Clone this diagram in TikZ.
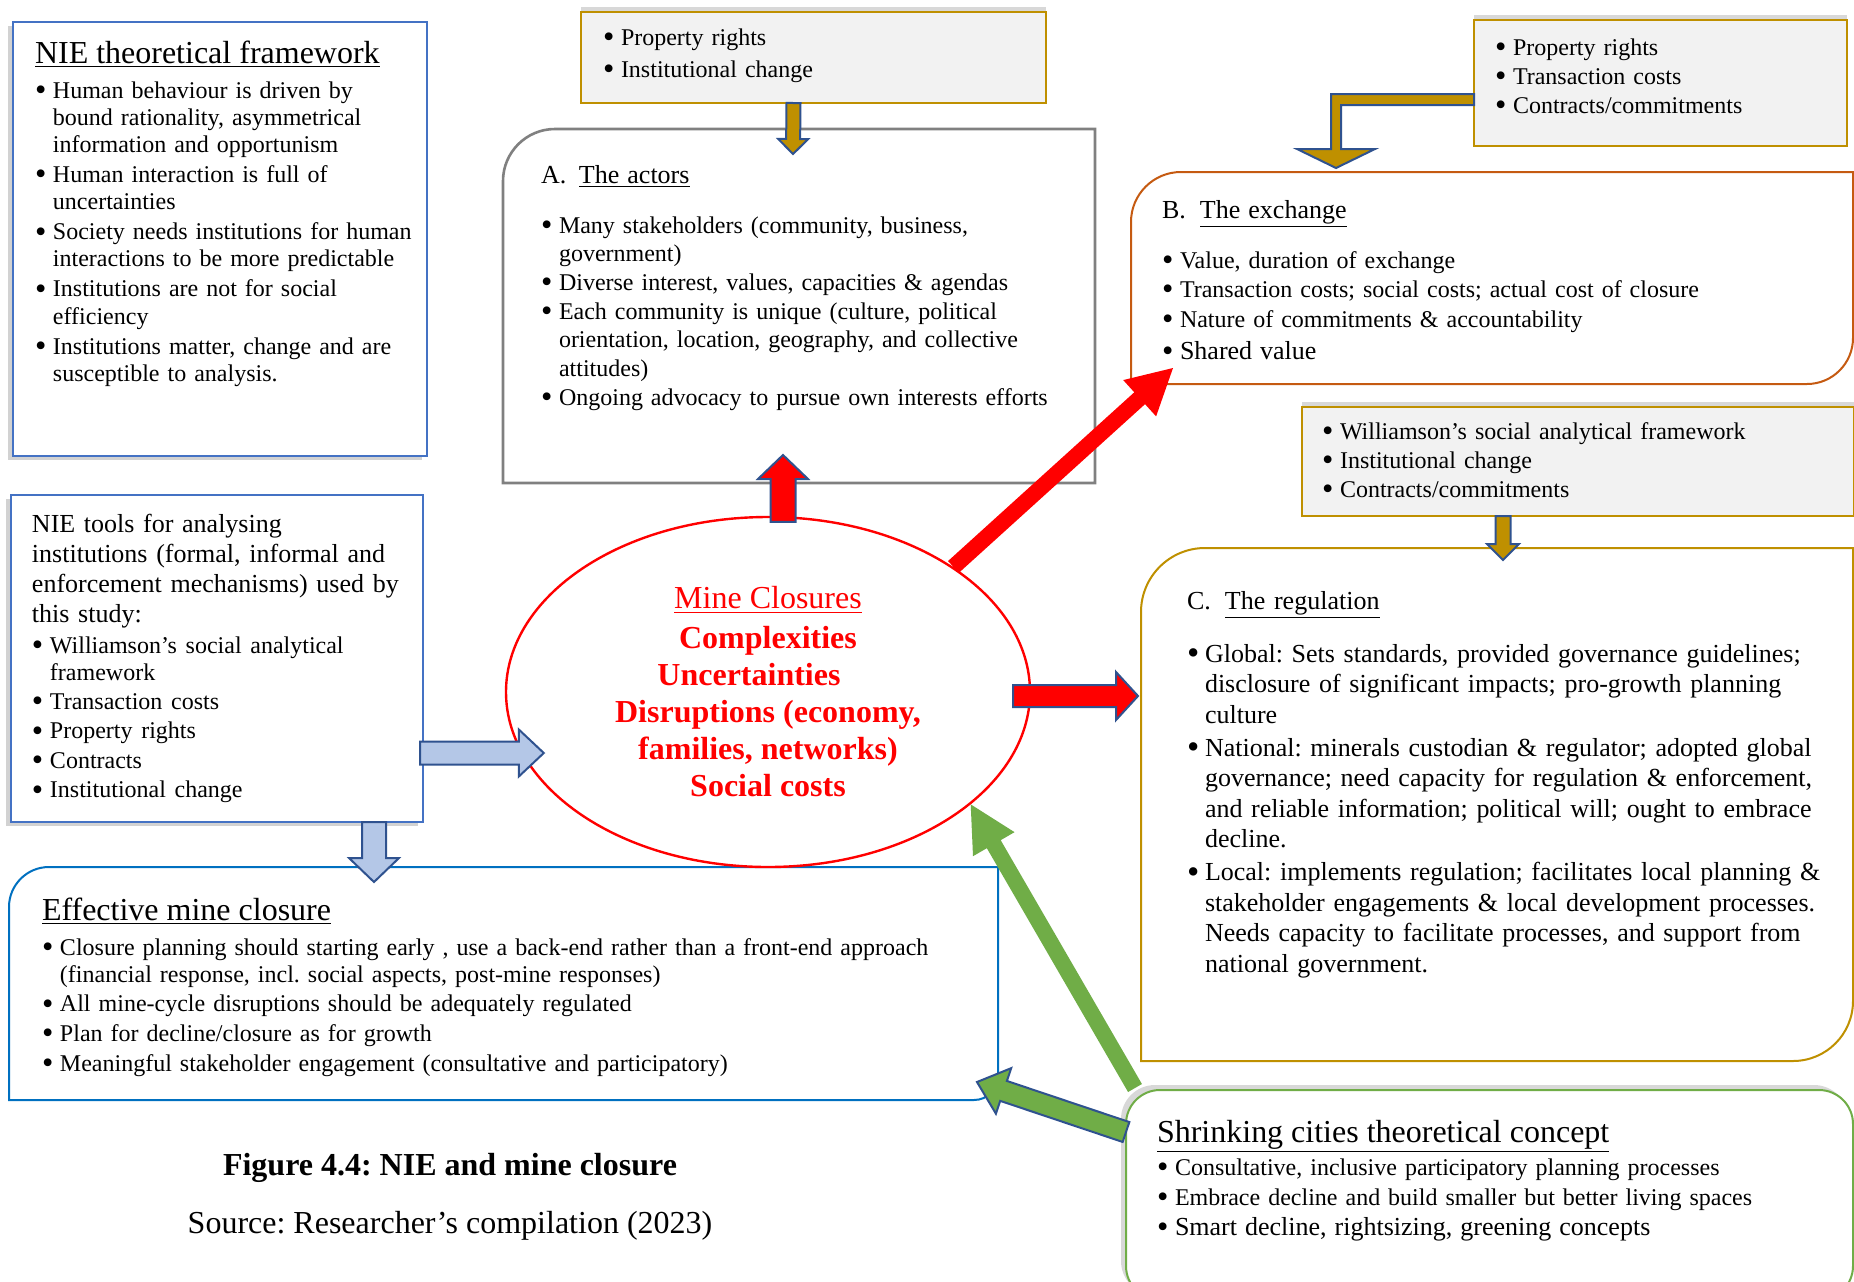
\documentclass[tikz,border=0pt]{standalone}
\usepackage{fontspec}
\setmainfont{Liberation Serif}
\frenchspacing
\usetikzlibrary{calc, fit, shapes.geometric, shadows}

\definecolor{nieblue}{HTML}{4472C4}
\definecolor{gold}{HTML}{BF9000}
\definecolor{boxgray}{HTML}{F2F2F2}
\definecolor{framegray}{HTML}{808080}
\definecolor{exorange}{HTML}{C55A11}
\definecolor{effblue}{HTML}{0070C0}
\definecolor{shrgreen}{HTML}{70AD47}
\definecolor{arrblue}{HTML}{2F528F}
\definecolor{lightblue}{HTML}{B4C7E7}

\newcommand{\blt}{\makebox[9pt][l]{\raisebox{-0.1em}{\scalebox{1.35}{\textbullet}}}}
\newcommand{\itm}{\par\noindent\hangindent=9pt\hangafter=1\blt}
\newcommand{\itmi}{\hangindent=9pt\hangafter=1\blt}
\newcommand{\ttl}{\fontsize{16}{19}\selectfont}
\newcommand{\subttl}{\fontsize{13}{15}\selectfont}

\begin{document}
\begin{tikzpicture}[x=0.5pt, y=-0.5pt]
	\tikzset{boxfit/.style={inner sep=0pt, outer sep=0pt},
		txt/.style={anchor=base west, inner sep=0pt, outer sep=0pt, align=left, text width=#1, font=\fontsize{12}{14}\selectfont},
		panel/.style={line width=1pt, fill=white},
		shadowL/.style={drop shadow={shadow xshift=-2.5pt, shadow yshift=-2pt, opacity=0.35}},
		shadowT/.style={drop shadow={shadow xshift=0pt, shadow yshift=2.5pt, opacity=0.3}},
		shadowTL/.style={drop shadow={shadow xshift=-2.5pt, shadow yshift=2.5pt, opacity=0.3}},
		blockarr/.style={line width=1pt, draw=arrblue, line join=miter},
		fat/.style n args={3}{to path={let \p1=(\tikztostart), \p2=(\tikztotarget), \p3=($(\p2)!#2!(\p1)$) in
			($(\p1)!#1!-90:(\p2)$) -- ($(\p3)!#1!-90:(\p2)$) -- ($(\p3)!#3!-90:(\p2)$) -- (\p2)
			-- ($(\p3)!#3!90:(\p2)$) -- ($(\p3)!#1!90:(\p2)$) -- ($(\p1)!#1!90:(\p2)$) -- cycle}}}

	\useasboundingbox (0,0) rectangle (1854,1281);
	\fill[white] (0,0) rectangle (1854,1281);

	\node[boxfit, fit={(13,22) (427,456)}] (nie) {};
	\node[boxfit, fit={(11,495) (423,822)}] (tools) {};
	\node[boxfit, fit={(581,12) (1046,103)}] (pr1) {};
	\node[boxfit, fit={(503,129) (1095,483)}] (A) {};
	\node[boxfit, fit={(1474,20) (1847,146)}] (pr2) {};
	\node[boxfit, fit={(1131,172) (1853,384)}] (B) {};
	\node[boxfit, fit={(1302,407) (1854,516)}] (prC) {};
	\node[boxfit, fit={(1141,548) (1853,1061)}] (C) {};
	\node[boxfit, fit={(9,867) (998,1100)}] (eff) {};
	\node[boxfit, fit={(1126,1090) (1853,1300)}] (shr) {};

	\draw[panel, draw=nieblue, shadowL] (nie.south west) rectangle (nie.north east);
	\draw[panel, draw=nieblue, shadowL] (tools.south west) rectangle (tools.north east);
	\draw[panel, draw=gold, fill=boxgray, shadowT] (pr1.south west) rectangle (pr1.north east);
	\draw[panel, draw=gold, fill=boxgray, shadowT] (pr2.south west) rectangle (pr2.north east);
	\draw[panel, draw=gold, fill=boxgray, shadowT] (prC.south west) rectangle (prC.north east);
	\draw[panel, draw=framegray, line width=1.3pt] (A.south west) -- ([yshift=-26pt]A.north west) arc[start angle=180, end angle=90, radius=26pt] -- (A.north east) -- (A.south east) -- cycle;
	\draw[panel, draw=exorange] (B.south west) -- ([yshift=-25pt]B.north west) arc[start angle=180, end angle=90, radius=25pt] -- (B.north east) -- ([yshift=23pt]B.south east) arc[start angle=0, end angle=-90, radius=23pt] -- cycle;
	\draw[panel, draw=gold] (C.south west) -- ([yshift=-32pt]C.north west) arc[start angle=180, end angle=90, radius=32pt] -- (C.north east) -- ([yshift=30pt]C.south east) arc[start angle=0, end angle=-90, radius=30pt] -- cycle;
	\draw[panel, draw=effblue] (eff.south west) -- ([yshift=-20pt]eff.north west) arc[start angle=180, end angle=90, radius=20pt] -- (eff.north east) -- ([yshift=12pt]eff.south east) arc[start angle=0, end angle=-90, radius=12pt] -- cycle;
	\draw[panel, draw=shrgreen, rounded corners=17pt, shadowTL] (shr.south west) rectangle (shr.north east);

	\node[txt=196pt] (nieT) at ($(nie.north west)+(22,41)$) {\parskip=1.4pt\relax
		\fontsize{12}{13.6}\selectfont
		{\ttl\underline{NIE theoretical framework}\par}\vspace{2.5pt}
		\itm Human behaviour is driven by\newline bound rationality, asymmetrical\newline information and opportunism
		\itm Human interaction is full of\newline uncertainties
		\itm Society needs institutions for human\newline interactions to be more predictable
		\itm Institutions are not for social\newline efficiency
		\itm Institutions matter, change and are\newline susceptible to analysis.\par};

	\node[txt=195pt, font=\fontsize{13}{15}\selectfont] (toolsT) at ($(tools.north west)+(21,37)$) {\parskip=1.2pt\relax
		NIE tools for analysing\newline institutions (formal, informal and\newline enforcement mechanisms) used by\newline this study:\par
		\vspace{0.8pt}\fontsize{12}{13.5}\selectfont
		\itm Williamson’s social analytical\newline framework
		\itm Transaction costs
		\itm Property rights
		\itm Contracts
		\itm Institutional change\par};

	\node[txt=220pt] (pr1T) at ($(pr1.north west)+(22,33)$) {\parskip=2pt\relax
		\itmi Property rights
		\itm Institutional change\par};

	\node[txt=176pt, font=\fontsize{12}{13.5}\selectfont] (pr2T) at ($(pr2.north west)+(21,35)$) {\parskip=1pt\relax
		\itmi Property rights
		\itm Transaction costs
		\itm Contracts/commitments\par};

	\node[txt=266pt, font=\fontsize{12}{13.5}\selectfont] (prCT) at ($(prC.north west)+(20,32)$) {\parskip=1pt\relax
		\itmi Williamson’s social analytical framework
		\itm Institutional change
		\itm Contracts/commitments\par};

	\node[txt=277pt] (actT) at ($(A.north west)+(38,54)$) {\parskip=0.3pt\relax
		{\subttl\makebox[19pt][l]{A.}\underline{The actors}\par}\vspace{10.5pt}
		\fontsize{12}{14.2}\selectfont
		\itm Many stakeholders (community, business,\newline government)
		\itm Diverse interest, values, capacities \& agendas
		\itm Each community is unique (culture, political\newline orientation, location, geography, and collective\newline attitudes)
		\itm Ongoing advocacy to pursue own interests efforts\par};

	\node[txt=345pt] (exT) at ($(B.north west)+(31,46)$) {\parskip=0.55pt\relax
		{\subttl\makebox[19pt][l]{B.}\underline{The exchange}\par}\vspace{10.25pt}
		\fontsize{12}{14.2}\selectfont
		\itm Value, duration of exchange
		\itm Transaction costs; social costs; actual cost of closure
		\itm Nature of commitments \& accountability
		\itm\fontsize{13}{15.5}\selectfont Shared value\par};

	\node[txt=333pt, font=\fontsize{13}{15.25}\selectfont] (regT) at ($(C.north west)+(46,61)$) {\parskip=1.25pt\relax
		{\makebox[19pt][l]{C.}\underline{The regulation}\par}\vspace{10pt}
		\itm Global: Sets standards, provided governance guidelines;\newline disclosure of significant impacts; pro-growth planning\newline culture
		\itm National: minerals custodian \& regulator; adopted global\newline governance; need capacity for regulation \& enforcement,\newline and reliable information; political will; ought to embrace\newline decline.
		\itm Local: implements regulation; facilitates local planning \&\newline stakeholder engagements \& local development processes.\newline Needs capacity to facilitate processes, and support from\newline national government.\par};

	\node[txt=478pt] (effT) at ($(eff.north west)+(33,53)$) {\parskip=1.2pt\relax
		\fontsize{12}{13.6}\selectfont
		{\ttl\underline{Effective mine closure}\par}\vspace{2.7pt}
		\itm Closure planning should starting early , use a back-end rather than a front-end approach\newline (financial response, incl. social aspects, post-mine responses)
		\itm All mine-cycle disruptions should be adequately regulated
		\itm Plan for decline/closure as for growth
		\itm Meaningful stakeholder engagement (consultative and participatory)\par};

	\node[txt=348pt] (shrT) at ($(shr.north west)+(31,52)$) {\parskip=1pt\relax
		{\ttl\underline{Shrinking cities theoretical concept}\par}\vspace{1.5pt}
		\itm Consultative, inclusive participatory planning processes
		\itm Embrace decline and build smaller but better living spaces
		\itm\fontsize{13}{14}\selectfont Smart decline, rightsizing, greening concepts\par};

	\node[ellipse, draw=red, line width=1.2pt, minimum width=262pt, minimum height=175pt, inner sep=0pt, align=center, text=red, font=\fontsize{16}{18.5}\selectfont] (ell) at (768,692)
		{\underline{Mine Closures}\\[1.5pt] \textbf{Complexities}\\ \textbf{Uncertainties}\kern19pt\\ \textbf{Disruptions (economy,}\\ \textbf{families, networks)}\\ \textbf{Social costs}};

	\node[anchor=base, inner sep=0pt, font=\ttl\bfseries] (cap) at (450,1175) {Figure 4.4: NIE and mine closure};
	\node[anchor=base, inner sep=0pt, font=\ttl] (src) at ($(cap.base)+(0,58)$) {Source: Researcher’s compilation (2023)};

	\draw[blockarr, fill=gold, fat={3.5pt}{7.5pt}{7.5pt}] ($(pr1.south)+(-20,0)$) to ($(A.north)+(-6,25)$);
	\draw[blockarr, fill=gold] (pr2.west |- 0,94) -- (1331,94) -- (1331,149) -- (1297,149) -- (1336,168) -- (1375,149) -- (1341,149) -- (1341,105) -- (pr2.west |- 0,105) -- cycle;
	\draw[blockarr, fill=gold, fat={3.75pt}{8pt}{8pt}] ($(prC.south)+(-75,0)$) to ($(C.north)+(6,12)$);

	\draw[blockarr, fill=red, fat={6.25pt}{12pt}{12.5pt}] ($(ell.north)+(15,6)$) to ($(A.south -| ell.north)+(15,-28)$);
	\draw[blockarr, fill=red, fat={5.5pt}{11pt}{12pt}] ($(ell.east)+(-18,4)$) to ($(C.west |- ell.east)+(-3,4)$);
	\draw[draw=none, fill=red, fat={4pt}{22.5pt}{12.25pt}] (ell.34) to ($(B.south west)+(42,-16)$);

	\coordinate (bt) at ($(tools.south east)+(-3,-69)$);
	\draw[blockarr, fill=lightblue, fat={5.75pt}{12.5pt}{11.75pt}] (bt) to ($(ell.west |- bt)+(39,0)$);
	\draw[blockarr, fill=lightblue, fat={6pt}{12pt}{12.5pt}] ($(tools.south east)+(-49,0)$) to ($(eff.north west)+(365,15)$);

	\draw[draw=none, fill=shrgreen, fat={4pt}{23pt}{12pt}] ($(shr.north west)+(9,-2)$) to (ell.-29);
	\draw[blockarr, fill=shrgreen, fat={5.25pt}{14pt}{12pt}] ($(shr.north west)+(0,42)$) to ($(eff.south east)+(-21,-18)$);
\end{tikzpicture}
\end{document}
